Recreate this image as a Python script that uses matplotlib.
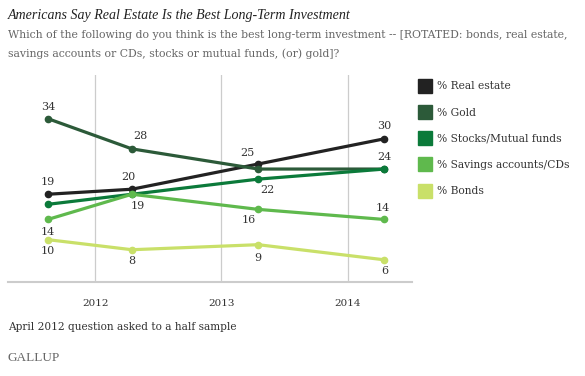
import matplotlib
matplotlib.use("Agg")
import matplotlib.pyplot as plt
from matplotlib.lines import Line2D

# survey dates (year, month)
dates = [(2011, 8), (2012, 4), (2013, 4), (2014, 4)]
series = ["% Real estate", "% Gold", "% Stocks/Mutual funds",
          "% Savings accounts/CDs", "% Bonds"]
real_estate = [19, 20, 25, 30]
gold = [34, 28, 24, 24]
stocks = [17, 19, 22, 24]
savings = [14, 19, 16, 14]
bonds = [10, 8, 9, 6]
year_ticks = [2012, 2013, 2014]

COLORS = ["#222222", "#2c5a39", "#0b7a3a", "#5fb94d", "#c9e069"]
GRAY, TXT = "#666666", "#333333"
SERIF = ["DejaVu Serif"]

xs = [y + (m - 0.5) / 12 for y, m in dates]
values = [real_estate, gold, stocks, savings, bonds]

# which points get a label: (series index, point index, dx px, dy px)
labels = [(0, 0, 0, 12), (0, 1, -4, 12), (0, 2, -11, 11), (0, 3, 0, 13),
          (1, 0, 0, 12), (1, 1, 8, 13), (1, 3, 0, 12),
          (2, 2, 9, -11),
          (3, 0, 0, -13), (3, 1, 6, -12), (3, 2, -9, -11), (3, 3, -2, 11),
          (4, 0, 0, -11), (4, 1, 0, -11), (4, 2, 0, -13), (4, 3, 0, -11)]

plt.rcParams["font.family"] = SERIF
fig = plt.figure(figsize=(5.85, 3.76), dpi=100)
ax = fig.add_axes([8 / 585, 1 - 282 / 376, 404 / 585, 207 / 376])

for vals, c, name in zip(values, COLORS, series):
    ax.plot(xs, vals, "-o", color=c, lw=2.3, ms=4.5, label=name, zorder=3)

for si, pi, dx, dy in labels:
    ax.annotate(str(values[si][pi]), (xs[pi], values[si][pi]), xytext=(dx * 0.72, dy * 0.72),
                textcoords="offset points", ha="center", va="center",
                fontsize=8, color=TXT)

ax.set_xlim(2011.31, 2014.51)
ax.set_ylim(1.6, 42.65)
ax.set_xticks(year_ticks)
ax.set_xticklabels([str(y) for y in year_ticks], fontsize=7.5, color=TXT)
ax.set_yticks([])
ax.tick_params(axis="x", length=0, pad=12)
ax.grid(axis="x", color="#cccccc", lw=0.9)
for s in ["top", "left", "right"]:
    ax.spines[s].set_visible(False)
ax.spines["bottom"].set_color("#cccccc")
ax.spines["bottom"].set_linewidth(1.5)

handles = [Line2D([], [], marker="s", ls="", ms=9.5, color=c) for c in COLORS]
fig.legend(handles, series, loc="upper left", bbox_to_anchor=(414 / 585, 1 - 77 / 376),
           frameon=False, fontsize=7.7, labelspacing=1.52, handletextpad=0.45,
           handlelength=1.3, borderaxespad=0, labelcolor=TXT)

fig.text(8 / 585, 1 - 16 / 376, "Americans Say Real Estate Is the Best Long-Term Investment",
         fontsize=10.1, style="italic", color="#222222", va="center",
         family=["Liberation Serif", "DejaVu Serif"])
fig.text(8 / 585, 1 - 35 / 376,
         "Which of the following do you think is the best long-term investment -- [ROTATED: bonds, real estate,",
         fontsize=7.8, color=GRAY, va="center")
fig.text(8 / 585, 1 - 54 / 376,
         "savings accounts or CDs, stocks or mutual funds, (or) gold]?",
         fontsize=7.8, color=GRAY, va="center")
fig.text(8 / 585, 1 - 327 / 376, "April 2012 question asked to a half sample",
         fontsize=7.6, color=TXT, va="center")
fig.text(8 / 585, 1 - 358 / 376, "GALLUP", fontsize=9.5, color=GRAY, va="center",
         family=["Liberation Serif", "DejaVu Serif"])

fig.savefig("out.png", dpi=100)
